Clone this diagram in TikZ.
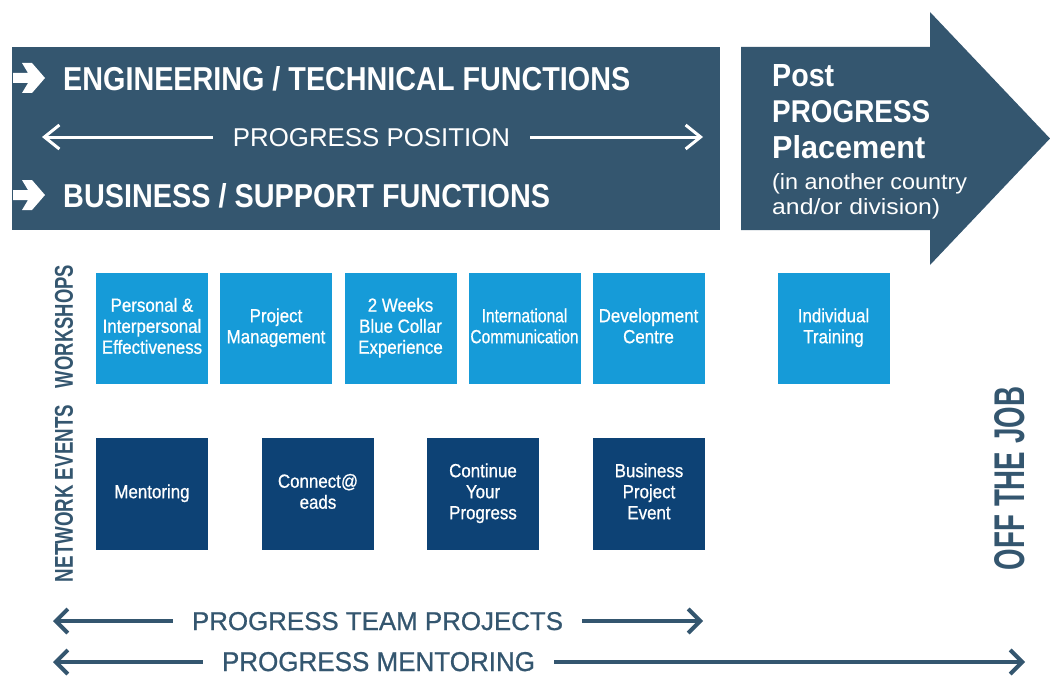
\documentclass[tikz,border=0pt]{standalone}
\usepackage{fontspec}
\setmainfont{Liberation Sans}
\newfontfamily\medfont[FakeBold=0.8]{Liberation Sans}
\usepackage{graphicx}
\usetikzlibrary{arrows.meta}
\definecolor{slate}{HTML}{34566F}
\definecolor{lblue}{HTML}{169BD8}
\definecolor{navy}{HTML}{0D4275}
\newcommand{\fitbox}[3]{\resizebox{#1}{#2}{#3}}
\newcommand{\bx}[2][0.89]{\scalebox{#1}[1]{\begin{tabular}{@{}c@{}}#2\end{tabular}}}
\begin{document}
\begin{tikzpicture}[x=1pt,y=-1pt,
  panel/.style={fill=slate, draw=none, inner sep=0pt},
  headtxt/.style={text=white, inner sep=0pt, font=\bfseries},
  sidetxt/.style={text=slate, inner sep=0pt, font=\bfseries, rotate=90},
  wsbox/.style={fill=lblue, text=white, minimum width=112pt, minimum height=111pt, inner sep=0pt, font=\medfont\fontsize{19}{21}\selectfont},
  netbox/.style={fill=navy, text=white, minimum width=112pt, minimum height=112pt, inner sep=0pt, font=\medfont\fontsize{19}{21}\selectfont},
  wline/.style={draw=white, line width=3pt, -{Straight Barb[length=15pt,width=24pt]}},
  sline/.style={draw=slate, line width=4pt, -{Straight Barb[length=12pt,width=24pt]}},
  bartxt/.style={inner xsep=19pt, inner ysep=0pt, font=\medfont}
]
\useasboundingbox (0,0) rectangle (1050,677);

% top panel
\node[panel, minimum width=708pt, minimum height=183pt] (panel) at (366,138.5) {};
% big arrow
\fill[slate] (741,47) -- (930,47) -- (930,12) -- (1050,138.5) -- (930,265) -- (930,230) -- (741,230) -- cycle;

% chevron icons
\fill[white, shift={(29,78)}] (-16,-5) -- (-1,-5) -- (-7,-15) -- (3,-15) -- (16,0) -- (3,15) -- (-7,15) -- (-1,5) -- (-16,5) -- cycle;
\fill[white, shift={(29,195)}] (-16,-5) -- (-1,-5) -- (-7,-15) -- (3,-15) -- (16,0) -- (3,15) -- (-7,15) -- (-1,5) -- (-16,5) -- cycle;

\node[headtxt, anchor=base west] (eng) at (63,90) {\fitbox{567pt}{24pt}{ENGINEERING / TECHNICAL FUNCTIONS}};
\node[headtxt, anchor=base west] (bus) at (63,207) {\fitbox{487pt}{24pt}{BUSINESS / SUPPORT FUNCTIONS}};
\node[text=white, bartxt, inner xsep=20pt, anchor=base, font=\rmfamily] (pp) at (371.5,146) {\fitbox{277pt}{18pt}{PROGRESS POSITION}};
\coordinate (ppL) at (42,137);
\coordinate (ppR) at (703,137);
\draw[wline] (pp.west |- ppL) -- (ppL);
\draw[wline] (pp.east |- ppR) -- (ppR);

% post progress text
\node[headtxt, anchor=base west] (post1) at (772,87) {\fitbox{62pt}{22pt}{Post}};
\node[headtxt, anchor=base west] (post2) at (772,122) {\fitbox{158pt}{22pt}{PROGRESS}};
\node[headtxt, anchor=base west] (post3) at (772,158) {\fitbox{153pt}{23pt}{Placement}};
\node[text=white, inner sep=0pt, anchor=base west] (post4) at (772,189) {\fitbox{195pt}{16pt}{(in another country}};
\node[text=white, inner sep=0pt, anchor=base west] (post5) at (772,214) {\fitbox{168pt}{16pt}{and/or division)}};

% side labels
\node[sidetxt] (wsl) at (64,326.5) {\fitbox{123pt}{18pt}{WORKSHOPS}};
\node[sidetxt] (nel) at (64,493.5) {\fitbox{177pt}{18pt}{NETWORK EVENTS}};
\node[sidetxt] (otj) at (1010,478.5) {\fitbox{183pt}{30pt}{OFF THE JOB}};

% workshops
\node[wsbox] (w1) at (152,328.5) {\bx{Personal \&\\Interpersonal\\Effectiveness}};
\node[wsbox] (w2) at (276,328.5) {\bx{Project\\Management}};
\node[wsbox] (w3) at (400.5,328.5) {\bx{2 Weeks\\Blue Collar\\Experience}};
\node[wsbox] (w4) at (524.5,328.5) {\bx[0.82]{International\\Communication}};
\node[wsbox] (w5) at (648.5,328.5) {\bx{Development\\Centre}};
\node[wsbox] (w6) at (833.5,328.5) {\bx{Individual\\Training}};

% network events
\node[netbox] (n1) at (152,494) {\bx{Mentoring}};
\node[netbox] (n2) at (318,494) {\bx{Connect@\\eads}};
\node[netbox] (n3) at (483,494) {\bx{Continue\\Your\\Progress}};
\node[netbox] (n4) at (649,494) {\bx{Business\\Project\\Event}};

% bottom bars
\node[text=slate, bartxt, anchor=base] (ptp) at (377.5,630) {\fitbox{371pt}{18pt}{PROGRESS TEAM PROJECTS}};
\coordinate (ptpL) at (53,621);
\coordinate (ptpR) at (703,621);
\draw[sline] (ptp.west |- ptpL) -- (ptpL);
\draw[sline] (ptp.east |- ptpR) -- (ptpR);

\node[text=slate, bartxt, anchor=base] (pm) at (378.5,671) {\fitbox{313pt}{19pt}{PROGRESS MENTORING}};
\coordinate (pmL) at (53,662);
\coordinate (pmR) at (1025,662);
\draw[sline] (pm.west |- pmL) -- (pmL);
\draw[sline] (pm.east |- pmR) -- (pmR);
\end{tikzpicture}
\end{document}
